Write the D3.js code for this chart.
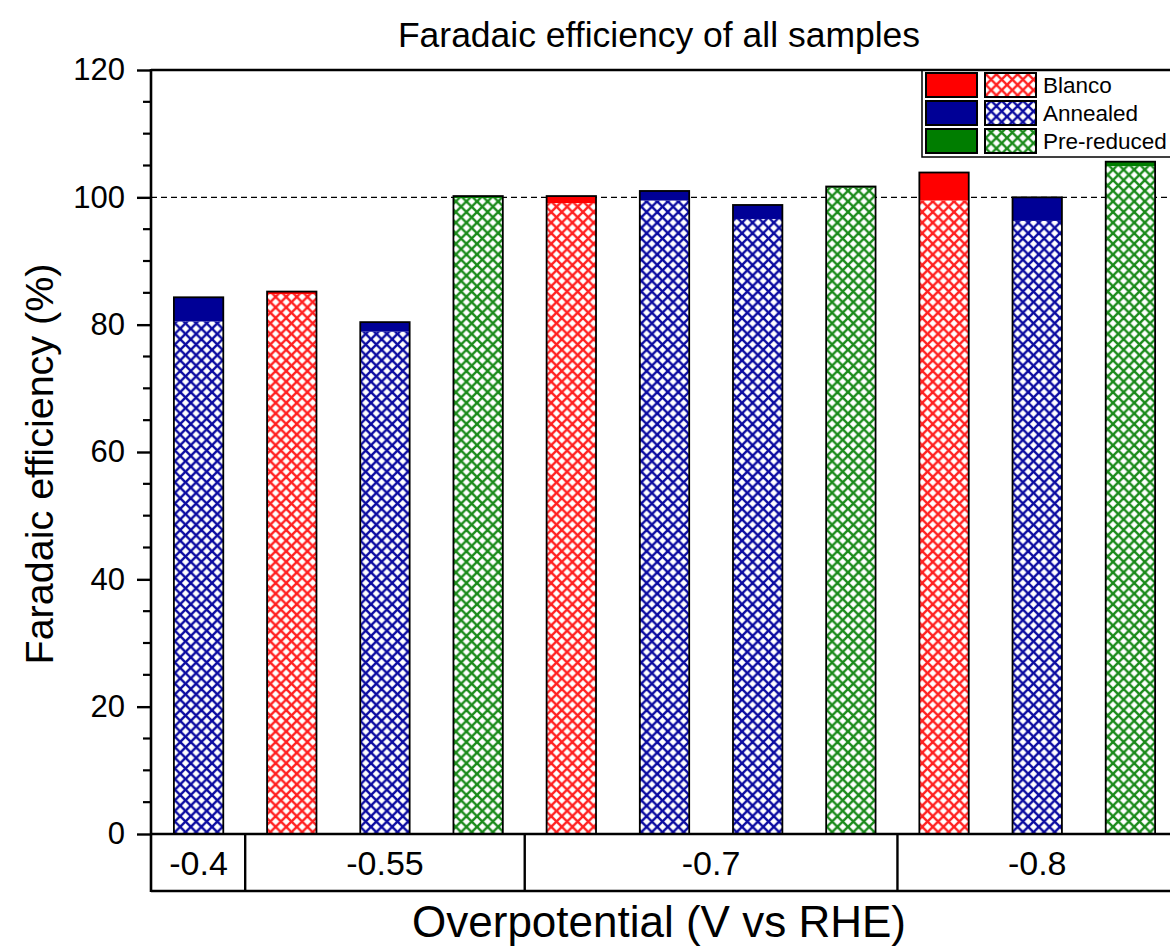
<!DOCTYPE html>
<html>
<head>
<meta charset="utf-8">
<script src="https://cdn.jsdelivr.net/npm/d3@7/dist/d3.min.js"></script>
<style>
  html, body { margin: 0; padding: 0; background: #fff; overflow: hidden; }
  svg { display: block; font-family: "Liberation Sans", Arial, sans-serif; }
</style>
</head>
<body>
<svg id="chart" width="1170" height="951"></svg>
<script>
// Potential groups along the x axis and how many samples each holds
const groups = ["-0.4", "-0.55", "-0.7", "-0.8"];
const groupSizes = [1, 3, 4, 3];

// Sample type for every bar, left to right
const samples = ["Annealed", "Blanco", "Annealed", "Pre-reduced",
                 "Blanco", "Annealed", "Annealed", "Pre-reduced",
                 "Blanco", "Annealed", "Pre-reduced"];

// Faradaic efficiency (%) — hatched lower segment and solid upper segment
const hatchedFE = [80.5, 84.8, 78.9, 99.9, 99.1, 99.5, 96.6, 101.5, 99.5, 96.3, 104.9];
const solidFE   = [3.8, 0.4, 1.5, 0.3, 1.1, 1.5, 2.2, 0.2, 4.4, 3.7, 0.7];

const legendNames = ["Blanco", "Annealed", "Pre-reduced"];
const yTicks = [0, 20, 40, 60, 80, 100, 120];

const solidColor = { "Blanco": "#ff0000", "Annealed": "#000096", "Pre-reduced": "#007d00" };
const hatchColor = { "Blanco": "#ff2020", "Annealed": "#0a0aa0", "Pre-reduced": "#1a8a1a" };

const svg = d3.select("#chart");
const plotLeft = 151, plotRight = 1178, plotTop = 70, plotBottom = 834, catBottom = 891;

const y = d3.scaleLinear().domain([0, 120]).range([plotBottom, plotTop]);
const x = d3.scaleBand().domain(d3.range(samples.length))
  .range([152, 1177]).paddingInner(0.47).paddingOuter(0.235);

// Cross-hatch fills
const defs = svg.append("defs");
const p = 10.6;
legendNames.forEach((name, i) => {
  const pat = defs.append("pattern")
    .attr("id", "hatch" + i)
    .attr("patternUnits", "userSpaceOnUse")
    .attr("width", p).attr("height", p);
  pat.append("rect").attr("width", p).attr("height", p).attr("fill", "#fff");
  const lines = [[0, 0, p, p], [0, p, p, 0], [-p / 2, p / 2, p / 2, p * 1.5], [p / 2, -p / 2, p * 1.5, p / 2],
                 [-p / 2, p / 2, p / 2, -p / 2], [p / 2, p * 1.5, p * 1.5, p / 2]];
  lines.forEach(l => pat.append("line")
    .attr("x1", l[0]).attr("y1", l[1]).attr("x2", l[2]).attr("y2", l[3])
    .attr("stroke", hatchColor[name]).attr("stroke-width", 2.4));
});
const hatchId = name => "url(#hatch" + legendNames.indexOf(name) + ")";

// Reference line at 100 %
svg.append("line")
  .attr("x1", plotLeft).attr("x2", 1170)
  .attr("y1", y(100)).attr("y2", y(100))
  .attr("stroke", "#000").attr("stroke-width", 1.2)
  .attr("stroke-dasharray", "6,4");

// Bars
const bars = svg.append("g");
samples.forEach((s, i) => {
  const bx = x(i), bw = x.bandwidth();
  bars.append("rect")
    .attr("x", bx).attr("width", bw)
    .attr("y", y(hatchedFE[i])).attr("height", y(0) - y(hatchedFE[i]))
    .attr("fill", hatchId(s));
  bars.append("rect")
    .attr("x", bx).attr("width", bw)
    .attr("y", y(hatchedFE[i] + solidFE[i])).attr("height", y(hatchedFE[i]) - y(hatchedFE[i] + solidFE[i]))
    .attr("fill", solidColor[s]);
  bars.append("rect")
    .attr("x", bx).attr("width", bw)
    .attr("y", y(hatchedFE[i] + solidFE[i])).attr("height", y(0) - y(hatchedFE[i] + solidFE[i]))
    .attr("fill", "none").attr("stroke", "#000").attr("stroke-width", 1.8);
});

// Y axis with outward major ticks and minor ticks every 5 %
const yAxis = d3.axisLeft(y).tickValues(yTicks).tickSize(14).tickPadding(12).tickFormat(d3.format("d"));
const gy = svg.append("g").attr("transform", `translate(${plotLeft},0)`).call(yAxis);
gy.select(".domain").remove();
gy.selectAll(".tick line").attr("stroke", "#000").attr("stroke-width", 2.4);
gy.selectAll(".tick text").attr("font-size", 31).attr("fill", "#000")
  .attr("font-family", "Liberation Sans, Arial, sans-serif");
const minor = d3.range(5, 120, 5).filter(v => v % 20 !== 0);
svg.append("g").selectAll("line").data(minor).join("line")
  .attr("x1", plotLeft - 8).attr("x2", plotLeft)
  .attr("y1", d => y(d)).attr("y2", d => y(d))
  .attr("stroke", "#000").attr("stroke-width", 2.2);

// Frame: left axis, bottom lines, right edge
const frame = svg.append("g").attr("stroke", "#000").attr("fill", "none");
frame.append("line").attr("x1", plotLeft).attr("x2", plotLeft).attr("y1", plotTop - 1).attr("y2", catBottom + 1).attr("stroke-width", 2.6);
frame.append("line").attr("x1", plotLeft).attr("x2", plotRight).attr("y1", plotBottom).attr("y2", plotBottom).attr("stroke-width", 2.6);
frame.append("line").attr("x1", plotLeft).attr("x2", plotRight).attr("y1", catBottom).attr("y2", catBottom).attr("stroke-width", 2.4);
frame.append("line").attr("x1", plotRight).attr("x2", plotRight).attr("y1", plotTop).attr("y2", catBottom).attr("stroke-width", 2.6);

// Group boxes under the axis
const step = x.step();
const x0 = x.range()[0];
let start = 0;
const catG = svg.append("g");
groups.forEach((g, gi) => {
  const a = x0 + start * step;
  const b = x0 + (start + groupSizes[gi]) * step;
  if (gi > 0) {
    catG.append("line").attr("x1", a).attr("x2", a).attr("y1", plotBottom).attr("y2", catBottom)
      .attr("stroke", "#000").attr("stroke-width", 2.4);
  }
  catG.append("text")
    .attr("x", (a + b) / 2).attr("y", 875)
    .attr("text-anchor", "middle").attr("font-size", 34).attr("fill", "#000")
    .text(g);
  start += groupSizes[gi];
});

// Legend
const lg = svg.append("g");
const lx = 922, ly = 70;
lg.append("rect").attr("x", lx).attr("y", ly).attr("width", 300).attr("height", 87)
  .attr("fill", "#fff").attr("stroke", "#000").attr("stroke-width", 1.5);
legendNames.forEach((name, i) => {
  const ry = ly + 3 + i * 28;
  lg.append("rect").attr("x", lx + 4).attr("y", ry).attr("width", 51).attr("height", 24)
    .attr("fill", solidColor[name]).attr("stroke", "#000").attr("stroke-width", 2);
  lg.append("rect").attr("x", lx + 63).attr("y", ry).attr("width", 51).attr("height", 24)
    .attr("fill", hatchId(name)).attr("stroke", "#000").attr("stroke-width", 2);
  lg.append("text").attr("x", lx + 121).attr("y", ry + 20)
    .attr("font-size", 22.5).attr("fill", "#000").text(name);
});

// Top frame line, drawn over the legend border
svg.append("line").attr("x1", plotLeft).attr("x2", plotRight).attr("y1", plotTop).attr("y2", plotTop)
  .attr("stroke", "#000").attr("stroke-width", 2.6);

// Titles
svg.append("text").attr("x", 659).attr("y", 47).attr("text-anchor", "middle")
  .attr("font-size", 35.5).attr("fill", "#000").text("Faradaic efficiency of all samples");
svg.append("text").attr("x", 659).attr("y", 937).attr("text-anchor", "middle")
  .attr("font-size", 44).attr("fill", "#000").text("Overpotential (V vs RHE)");
svg.append("text")
  .attr("transform", "translate(53,464) rotate(-90)")
  .attr("text-anchor", "middle").attr("font-size", 39.5).attr("fill", "#000")
  .text("Faradaic efficiency (%)");
</script>
</body>
</html>
